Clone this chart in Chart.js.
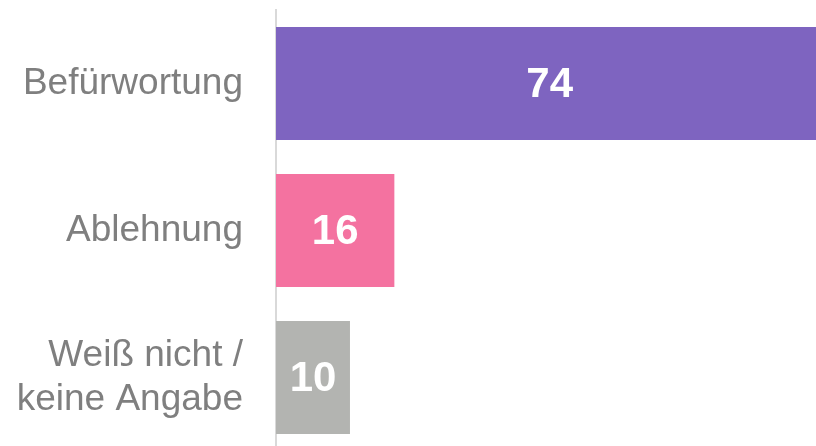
<!DOCTYPE html>
<html>
<head>
<meta charset="utf-8">
<script src="https://cdn.jsdelivr.net/npm/chart.js@4/dist/chart.umd.min.js"></script>
<style>
html,body{margin:0;padding:0;background:#fff;overflow:hidden;width:816px;height:446px;}
canvas{display:block;}
</style>
</head>
<body>
<canvas id="c" width="816" height="451" style="width:816px;height:451px"></canvas>
<script>
const categories = ["Befürwortung", "Ablehnung", ["Weiß nicht /", "keine Angabe"]];
const values = [74, 16, 10];
const barColors = ["#7E64C0", "#F472A0", "#B3B4B1"];
const axisMax = 73;

const valueLabels = {
  id: 'valueLabels',
  afterDatasetsDraw(chart) {
    const ctx = chart.ctx;
    const meta = chart.getDatasetMeta(0);
    ctx.save();
    ctx.fillStyle = '#ffffff';
    ctx.font = 'bold 42px "Liberation Sans", Arial, sans-serif';
    ctx.textAlign = 'center';
    ctx.textBaseline = 'middle';
    meta.data.forEach((bar, i) => {
      const cx = (bar.x + bar.base) / 2;
      ctx.fillText(String(values[i]), cx, bar.y + 2);
    });
    ctx.restore();
  }
};

new Chart(document.getElementById('c'), {
  type: 'bar',
  data: {
    labels: categories,
    datasets: [{
      data: values,
      backgroundColor: barColors,
      borderWidth: 0,
      barPercentage: 0.77,
      categoryPercentage: 1.0
    }]
  },
  options: {
    indexAxis: 'y',
    responsive: false,
    animation: false,
    layout: { padding: { top: 10, bottom: 0, left: 0, right: 0 } },
    plugins: { legend: { display: false }, tooltip: { enabled: false } },
    scales: {
      x: {
        display: false,
        min: 0,
        max: axisMax
      },
      y: {
        afterFit(scale) { scale.width = 276; scale.paddingTop = 0; scale.paddingBottom = 0; },
        grid: { display: false, drawTicks: false },
        border: { display: true, color: '#D9D9D9', width: 2 },
        ticks: {
          padding: 33,
          color: '#7F7F7F',
          font: { family: '"Liberation Sans", Arial, sans-serif', size: 37, lineHeight: 1.2 }
        }
      }
    }
  },
  plugins: [valueLabels]
});
</script>
</body>
</html>
